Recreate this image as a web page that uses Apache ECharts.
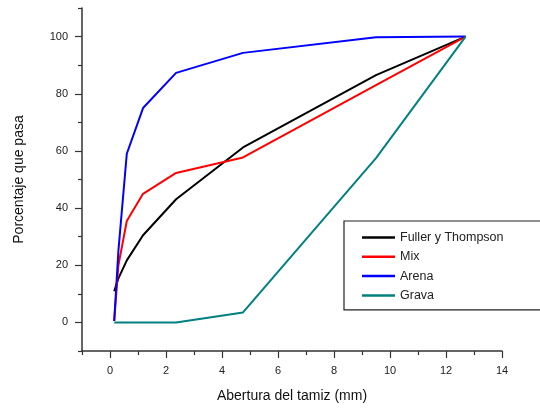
<!DOCTYPE html>
<html>
<head>
<meta charset="utf-8">
<script src="https://cdn.jsdelivr.net/npm/echarts@6/dist/echarts.min.js"></script>
<style>
  html, body { margin: 0; padding: 0; background: #fff; }
  #chart { width: 540px; height: 408px; }
</style>
</head>
<body>
<div id="chart"></div>
<script>
// abertura de tamices (mm)
let tamices = [0.15, 0.3, 0.6, 1.18, 2.36, 4.75, 9.5, 12.7];

let fuller = [10.9, 15.4, 21.7, 30.5, 43.1, 61.2, 86.5, 100];
let mix    = [0.5, 20, 35.5, 45, 52.3, 57.7, 83, 100];
let arena  = [0.5, 25, 59, 75, 87.3, 94.3, 99.8, 100];
let grava  = [0, 0, 0, 0, 0, 3.5, 57.5, 100];

let xMajor = [0, 2, 4, 6, 8, 10, 12, 14];
let xMinor = [-1, 1, 3, 5, 7, 9, 11, 13];
let yMajor = [0, 20, 40, 60, 80, 100];
let yMinor = [-10, 10, 30, 50, 70, 90, 110];

function pares(ys) {
    let out = [];
    for (let i = 0; i < tamices.length; i++) out.push([tamices[i], ys[i]]);
    return out;
}

let fuente = '"Liberation Sans", Arial, sans-serif';
let chart = echarts.init(document.getElementById('chart'));

let ejeX = function (ticks, largo, etiquetas, principal) {
    return {
        type: 'value', min: -1, max: 14, position: 'bottom',
        name: principal ? 'Abertura del tamiz (mm)' : '',
        nameLocation: 'middle', nameGap: 38,
        nameTextStyle: { fontFamily: fuente, fontSize: 14, color: '#111' },
        splitLine: { show: false },
        axisLine: { show: principal, onZero: false, lineStyle: { color: '#333', width: 1.5 } },
        axisTick: { show: true, inside: false, length: largo, customValues: ticks, lineStyle: { color: '#333', width: 1.2 } },
        axisLabel: etiquetas ? { show: true, customValues: etiquetas, margin: 14, fontFamily: fuente, fontSize: 11, color: '#222' } : { show: false }
    };
};
let ejeY = function (ticks, largo, etiquetas, principal) {
    return {
        type: 'value', min: -10, max: 110, position: 'left',
        name: principal ? 'Porcentaje que pasa' : '',
        nameLocation: 'middle', nameGap: 56, nameRotate: 90,
        nameTextStyle: { fontFamily: fuente, fontSize: 14, color: '#111' },
        splitLine: { show: false },
        axisLine: { show: principal, onZero: false, lineStyle: { color: '#333', width: 1.5 } },
        axisTick: { show: true, inside: false, length: largo, customValues: ticks, lineStyle: { color: '#333', width: 1.2 } },
        axisLabel: etiquetas ? { show: true, customValues: etiquetas, margin: 14, fontFamily: fuente, fontSize: 11, color: '#222' } : { show: false }
    };
};

let linea = function (nombre, color, ys) {
    return {
        name: nombre, type: 'line', data: pares(ys),
        xAxisIndex: 0, yAxisIndex: 0,
        showSymbol: false, symbol: 'none', smooth: false,
        lineStyle: { color: color, width: 2 },
        itemStyle: { color: color },
        animation: false
    };
};

let option = {
    animation: false,
    grid: { left: 82, right: 38, top: 8, bottom: 56, containLabel: false },
    legend: {
        orient: 'vertical', left: 344, top: 221,
        padding: [10, 60, 8, 18], itemGap: 6.3,
        itemWidth: 33, itemHeight: 2.5, icon: 'rect',
        borderColor: '#222', borderWidth: 1.2,
        textStyle: { fontFamily: fuente, fontSize: 12.5, color: '#222' },
        data: ['Fuller y Thompson', 'Mix', 'Arena', 'Grava']
    },
    xAxis: [ejeX(xMinor, 4, null, true), ejeX(xMajor, 7, xMajor, false)],
    yAxis: [ejeY(yMinor, 4, null, true), ejeY(yMajor, 7, yMajor, false)],
    series: [
        linea('Fuller y Thompson', '#000000', fuller),
        linea('Mix', '#ff0000', mix),
        linea('Arena', '#0000ff', arena),
        linea('Grava', '#008080', grava)
    ]
};
chart.setOption(option);
</script>
</body>
</html>
